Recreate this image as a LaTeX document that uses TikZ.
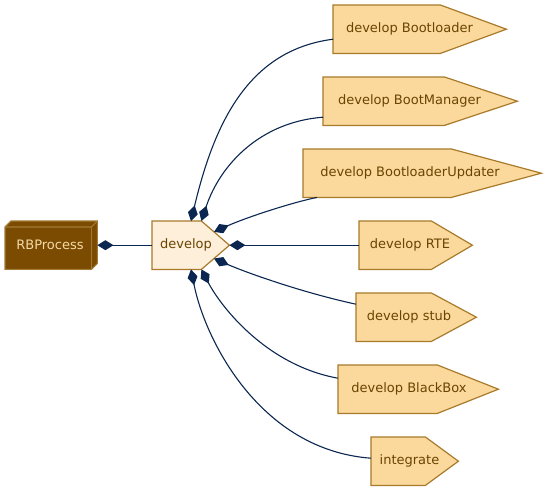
\documentclass[tikz,border=0pt]{standalone}
\usepackage{fontspec}
\setmainfont{DejaVu Sans}
\usetikzlibrary{arrows.meta,calc}
\definecolor{tfill}{HTML}{FBD99D}
\definecolor{tdraw}{HTML}{A87A2A}
\definecolor{ttext}{HTML}{6B4400}
\definecolor{dfill}{HTML}{FEEFDA}
\definecolor{pfill}{HTML}{7A4B00}
\definecolor{pdraw}{HTML}{A27A35}
\definecolor{ptext}{HTML}{F5D9A6}
\definecolor{edgec}{HTML}{0B2650}
\begin{document}
\begin{tikzpicture}[x=1pt,y=-1pt,
  body/.style={rectangle,inner sep=0pt,minimum height=48pt,anchor=north west},
  lbl/.style={text=ttext,font=\fontsize{13}{15}\selectfont,inner sep=0pt},
  shp/.style={fill=tfill,draw=tdraw,line width=1.2pt,line join=miter},
  conn/.style={draw=edgec,line width=1.1pt,{Diamond[length=16pt,width=10pt,fill=edgec]}-}]
\useasboundingbox (0,0) rectangle (547,491);

% RBProcess 3D box
\node[rectangle,inner sep=0pt,minimum width=92pt,minimum height=48pt,anchor=north west] (rb) at (5,221) {};
\path[fill=pfill,draw=pdraw,line width=1.1pt,line join=miter]
  (rb.south west) -- ($(rb.north west)+(0,6)$) -- ($(rb.north west)+(6,0)$) -- (rb.north east)
  -- ($(rb.south east)+(0,-6)$) -- ($(rb.south east)+(-6,0)$) -- cycle;
\draw[pdraw,line width=1.1pt] ($(rb.north west)+(0,6)$) -- ($(rb.north east)+(-6,6)$) -- (rb.north east);
\draw[pdraw,line width=1.1pt] ($(rb.north east)+(-6,6)$) -- ($(rb.south east)+(-6,0)$);
\node[text=ptext,font=\fontsize{13}{15}\selectfont,inner sep=0pt] (rbt) at (50,245) {RBProcess};

% develop
\node[body,minimum width=49pt] (dev) at (152,221) {};
\coordinate (devtip) at ($(dev.east)+(28,0)$);
\path[shp,fill=dfill] (dev.north west) -- (dev.north east) -- (devtip) -- (dev.south east) -- (dev.south west) -- cycle;
\node[lbl] (devt) at (186,245) {develop};

% targets
\node[body,minimum width=107pt] (bl) at (333,5) {};
\path[shp] (bl.north west) -- (bl.north east) -- ($(bl.east)+(66,0)$) -- (bl.south east) -- (bl.south west) -- cycle;
\node[lbl] (blt) at (409.5,29) {develop Bootloader};

\node[body,minimum width=121pt] (bm) at (323,77) {};
\path[shp] (bm.north west) -- (bm.north east) -- ($(bm.east)+(73,0)$) -- (bm.south east) -- (bm.south west) -- cycle;
\node[lbl] (bmt) at (409.5,101) {develop BootManager};

\node[body,minimum width=148pt] (bu) at (303,149) {};
\path[shp] (bu.north west) -- (bu.north east) -- ($(bu.east)+(90,0)$) -- (bu.south east) -- (bu.south west) -- cycle;
\node[lbl] (but) at (410,173) {develop BootloaderUpdater};

\node[body,minimum width=72pt] (rte) at (359,221) {};
\path[shp] (rte.north west) -- (rte.north east) -- ($(rte.east)+(41,0)$) -- (rte.south east) -- (rte.south west) -- cycle;
\node[lbl] (rtet) at (410,245) {develop RTE};

\node[body,minimum width=75pt] (stub) at (356,293) {};
\path[shp] (stub.north west) -- (stub.north east) -- ($(stub.east)+(45,0)$) -- (stub.south east) -- (stub.south west) -- cycle;
\node[lbl] (stubt) at (409,317) {develop stub};

\node[body,minimum width=99pt] (bb) at (338,365) {};
\path[shp] (bb.north west) -- (bb.north east) -- ($(bb.east)+(61,0)$) -- (bb.south east) -- (bb.south west) -- cycle;
\node[lbl] (bbt) at (409,389) {develop BlackBox};

\node[body,minimum width=54pt] (int) at (371,437) {};
\path[shp] (int.north west) -- (int.north east) -- ($(int.east)+(33,0)$) -- (int.south east) -- (int.south west) -- cycle;
\node[lbl] (intt) at (409.5,461) {integrate};

% connectors
\draw[conn] (rb.east) -- (dev.west);
\draw[conn] ($(dev.north west)+(39,0)$) .. controls (215,120) and (250,50) .. ($(bl.west)+(0,10)$);
\draw[conn] (dev.north east) .. controls (220,165) and (260,122) .. ($(bm.west)+(0,16)$);
\draw[conn] ($(dev.north east)!0.45!(devtip)$) .. controls (245,218) and (290,203) .. ($(bu.south west)+(14,0)$);
\draw[conn] (devtip) -- (rte.west);
\draw[conn] ($(dev.south east)!0.45!(devtip)$) .. controls (245,272) and (300,292) .. ($(stub.west)+(0,-13)$);
\draw[conn] (dev.south east) .. controls (220,305) and (265,365) .. ($(bb.west)+(0,-11)$);
\draw[conn] ($(dev.south west)+(39,0)$) .. controls (205,340) and (260,450) .. ($(int.west)+(0,-3)$);
\end{tikzpicture}
\end{document}
